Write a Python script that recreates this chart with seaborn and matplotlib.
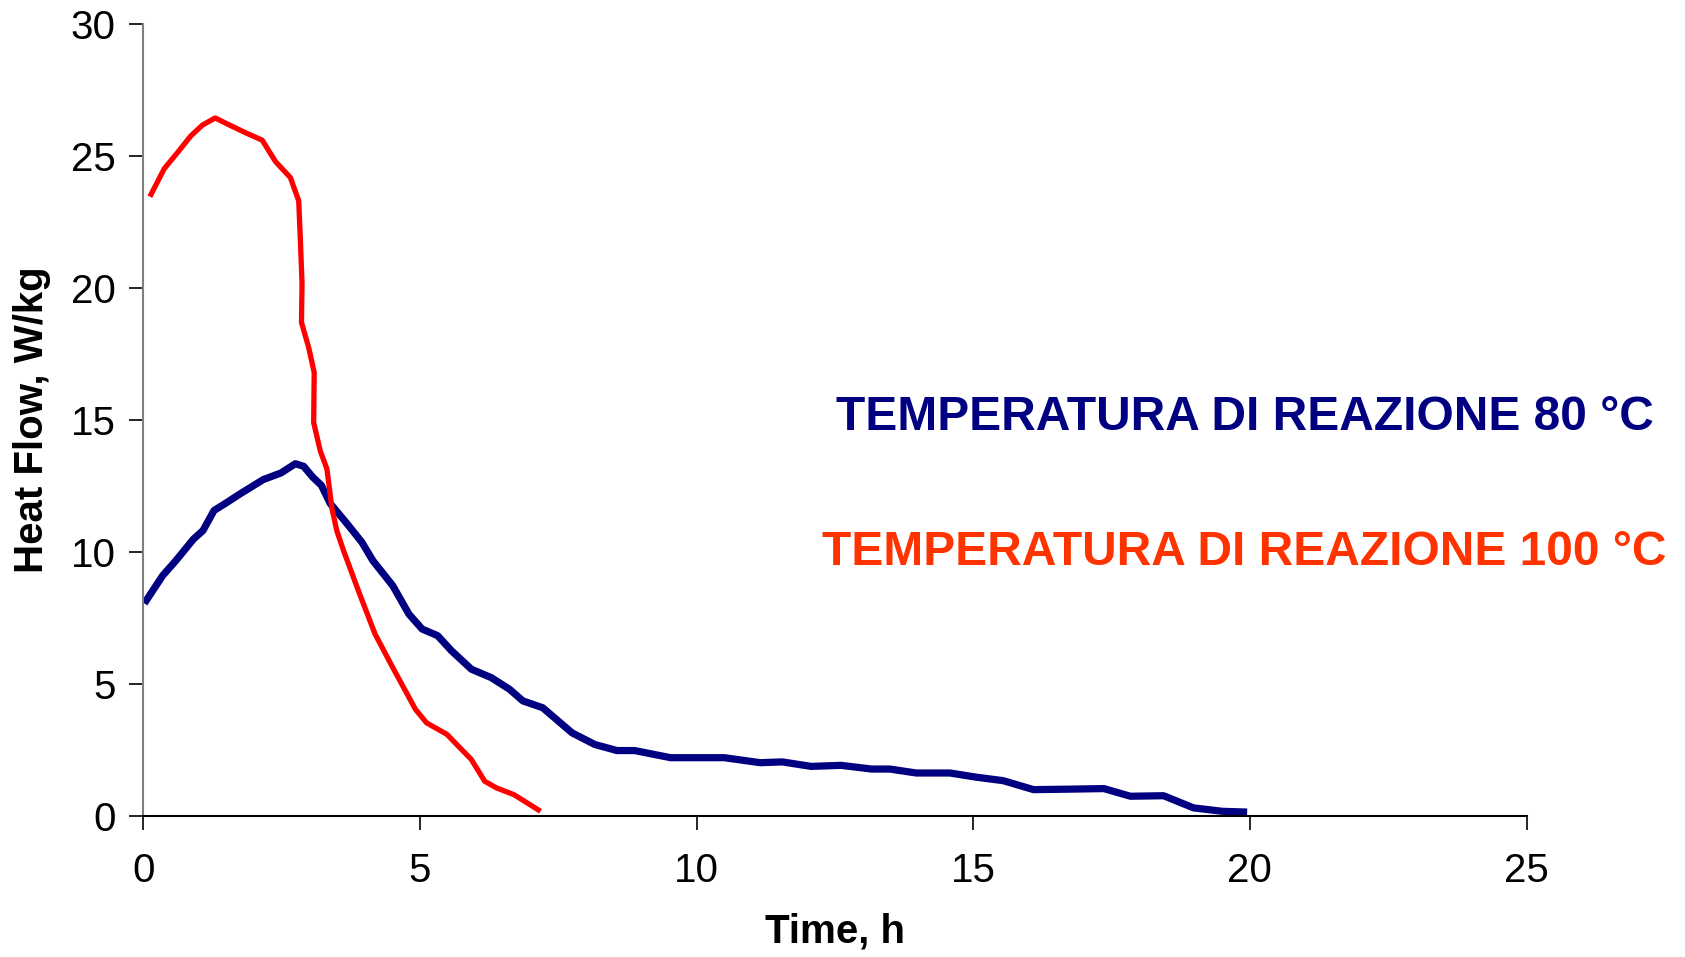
import matplotlib.pyplot as plt
import pandas as pd
import seaborn as sns

# values
time_80 = [0.02, 0.35, 0.59, 0.91, 1.08, 1.28, 1.48, 1.76, 2.17, 2.49, 2.75, 2.9,
           3.06, 3.22, 3.38, 3.71, 3.95, 4.15, 4.51, 4.8, 5.04, 5.32, 5.57, 5.93,
           6.29, 6.62, 6.86, 7.22, 7.75, 8.16, 8.56, 8.88, 9.53, 10.5, 11.15, 11.55,
           12.07, 12.61, 13.16, 13.49, 13.97, 14.58, 15.06, 15.54, 16.09, 16.78,
           17.36, 17.84, 18.44, 18.98, 19.5, 19.95]
flow_80 = [8.06, 9.11, 9.68, 10.5, 10.82, 11.58, 11.84, 12.22, 12.75, 13.0, 13.35, 13.25,
           12.85, 12.53, 11.84, 11.01, 10.38, 9.68, 8.73, 7.66, 7.09, 6.84, 6.27, 5.57,
           5.25, 4.81, 4.37, 4.11, 3.16, 2.72, 2.49, 2.49, 2.22, 2.22, 2.03, 2.06,
           1.89, 1.93, 1.79, 1.79, 1.64, 1.64, 1.48, 1.35, 1.01, 1.03,
           1.05, 0.76, 0.78, 0.32, 0.19, 0.16]

time_100 = [0.12, 0.38, 0.62, 0.86, 1.07, 1.3, 1.55, 1.88, 2.15, 2.39, 2.66, 2.81,
            2.84, 2.87, 2.86, 2.99, 3.09, 3.08, 3.2, 3.32, 3.41, 3.5, 3.62, 3.91,
            4.19, 4.51, 4.92, 5.12, 5.49, 5.93, 6.17, 6.38, 6.7, 7.18]
flow_100 = [23.46, 24.52, 25.13, 25.76, 26.17, 26.44, 26.18, 25.85, 25.6, 24.79, 24.18, 23.3,
            21.81, 20.19, 18.7, 17.75, 16.8, 14.91, 13.83, 13.15, 11.66, 10.8, 10.06, 8.42,
            6.9, 5.63, 4.05, 3.54, 3.1, 2.15, 1.33, 1.08, 0.82, 0.19]

series_labels = ["TEMPERATURA DI REAZIONE 80 °C", "TEMPERATURA DI REAZIONE 100 °C"]
line_colors = ["#000080", "#FF0000"]
text_colors = ["#000080", "#FF3300"]
x_ticks = [0, 5, 10, 15, 20, 25]
y_ticks = [0, 5, 10, 15, 20, 25, 30]

df = pd.concat(
    [
        pd.DataFrame({"time": time_80, "flow": flow_80, "serie": series_labels[0]}),
        pd.DataFrame({"time": time_100, "flow": flow_100, "serie": series_labels[1]}),
    ],
    ignore_index=True,
)

sns.set_style("white")
plt.rcParams["font.family"] = ["Liberation Sans", "DejaVu Sans"]
plt.rcParams["text.color"] = "black"
plt.rcParams["axes.labelcolor"] = "black"

fig = plt.figure(figsize=(16.85, 9.57), dpi=100)
ax = fig.add_axes([0.085, 0.147, 0.821, 0.828])

for label, color, lw in zip(series_labels, line_colors, [5.2, 3.8]):
    sub = df[df["serie"] == label]
    sns.lineplot(data=sub, x="time", y="flow", sort=False, estimator=None,
                 color=color, lw=lw, ax=ax, legend=False)
for line in ax.get_lines():
    line.set_solid_joinstyle("round")
    line.set_solid_capstyle("butt")

ax.set_xlim(0, 25)
ax.set_ylim(0, 30)
ax.set_xticks(x_ticks)
ax.set_yticks(y_ticks)
ax.tick_params(axis="both", labelsize=29, length=10, width=1.2, direction="out",
               colors="black", left=True, bottom=True)
ax.tick_params(axis="x", pad=16)
ax.tick_params(axis="y", pad=10)

for side in ["top", "right"]:
    ax.spines[side].set_visible(False)
ax.spines["left"].set_color("#808080")
ax.spines["left"].set_linewidth(1.5)
ax.spines["bottom"].set_color("black")
ax.spines["bottom"].set_linewidth(1.5)

ax.set_xlabel("Time, h", fontsize=29, fontweight="bold", labelpad=16)
ax.set_ylabel("Heat Flow, W/kg", fontsize=29, fontweight="bold", labelpad=14)

ax.text(19.9, 15.1, series_labels[0], color=text_colors[0], fontsize=34.5,
        fontweight="bold", ha="center", va="center")
ax.text(19.9, 10.0, series_labels[1], color=text_colors[1], fontsize=34.5,
        fontweight="bold", ha="center", va="center", clip_on=False)

fig.savefig("out.png", dpi=100)
